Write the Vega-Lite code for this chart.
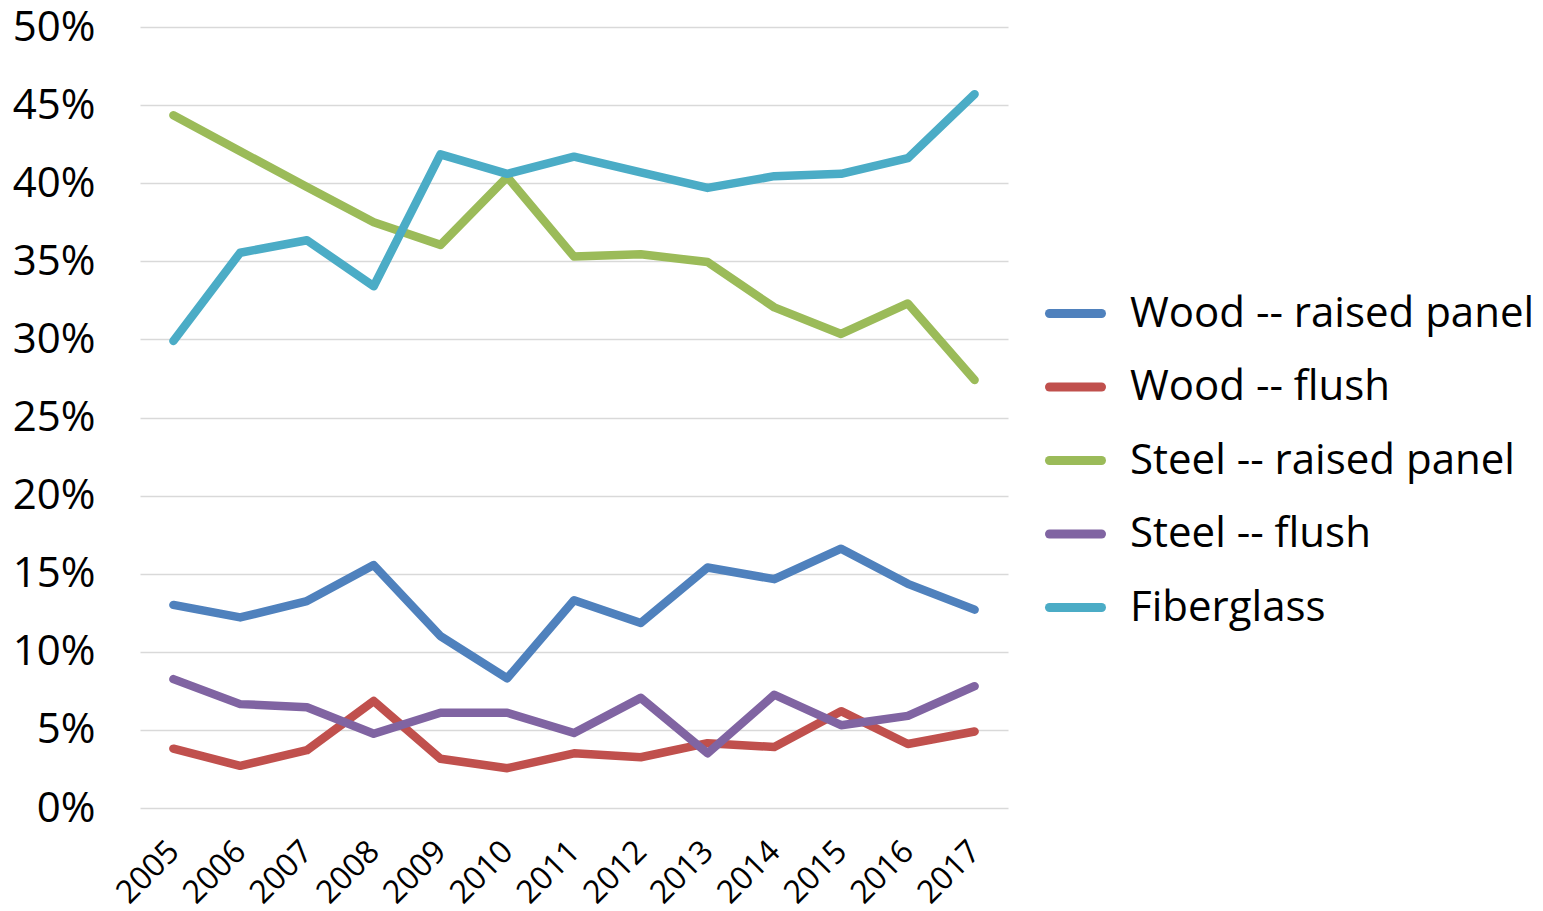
{
  "$schema": "https://vega.github.io/schema/vega-lite/v6.json",
  "width": 868,
  "height": 781,
  "autosize": {"type": "none"},
  "padding": {"left": 140, "top": 27, "right": 535, "bottom": 103},
  "background": "white",
  "config": {
    "view": {"stroke": null},
    "font": "Open Sans"
  },
  "data": {
    "values": [
      {"year": "2005", "type": "Wood -- raised panel", "share": 0.130},
      {"year": "2006", "type": "Wood -- raised panel", "share": 0.122},
      {"year": "2007", "type": "Wood -- raised panel", "share": 0.1325},
      {"year": "2008", "type": "Wood -- raised panel", "share": 0.1555},
      {"year": "2009", "type": "Wood -- raised panel", "share": 0.110},
      {"year": "2010", "type": "Wood -- raised panel", "share": 0.083},
      {"year": "2011", "type": "Wood -- raised panel", "share": 0.133},
      {"year": "2012", "type": "Wood -- raised panel", "share": 0.1185},
      {"year": "2013", "type": "Wood -- raised panel", "share": 0.154},
      {"year": "2014", "type": "Wood -- raised panel", "share": 0.1465},
      {"year": "2015", "type": "Wood -- raised panel", "share": 0.166},
      {"year": "2016", "type": "Wood -- raised panel", "share": 0.1435},
      {"year": "2017", "type": "Wood -- raised panel", "share": 0.127},
      {"year": "2005", "type": "Wood -- flush", "share": 0.038},
      {"year": "2006", "type": "Wood -- flush", "share": 0.027},
      {"year": "2007", "type": "Wood -- flush", "share": 0.037},
      {"year": "2008", "type": "Wood -- flush", "share": 0.0685},
      {"year": "2009", "type": "Wood -- flush", "share": 0.0315},
      {"year": "2010", "type": "Wood -- flush", "share": 0.0255},
      {"year": "2011", "type": "Wood -- flush", "share": 0.035},
      {"year": "2012", "type": "Wood -- flush", "share": 0.0325},
      {"year": "2013", "type": "Wood -- flush", "share": 0.0415},
      {"year": "2014", "type": "Wood -- flush", "share": 0.039},
      {"year": "2015", "type": "Wood -- flush", "share": 0.062},
      {"year": "2016", "type": "Wood -- flush", "share": 0.041},
      {"year": "2017", "type": "Wood -- flush", "share": 0.049},
      {"year": "2005", "type": "Steel -- raised panel", "share": 0.4435},
      {"year": "2006", "type": "Steel -- raised panel", "share": 0.4205},
      {"year": "2007", "type": "Steel -- raised panel", "share": 0.3975},
      {"year": "2008", "type": "Steel -- raised panel", "share": 0.375},
      {"year": "2009", "type": "Steel -- raised panel", "share": 0.3605},
      {"year": "2010", "type": "Steel -- raised panel", "share": 0.404},
      {"year": "2011", "type": "Steel -- raised panel", "share": 0.353},
      {"year": "2012", "type": "Steel -- raised panel", "share": 0.3545},
      {"year": "2013", "type": "Steel -- raised panel", "share": 0.3495},
      {"year": "2014", "type": "Steel -- raised panel", "share": 0.3205},
      {"year": "2015", "type": "Steel -- raised panel", "share": 0.3035},
      {"year": "2016", "type": "Steel -- raised panel", "share": 0.323},
      {"year": "2017", "type": "Steel -- raised panel", "share": 0.274},
      {"year": "2005", "type": "Steel -- flush", "share": 0.0825},
      {"year": "2006", "type": "Steel -- flush", "share": 0.0665},
      {"year": "2007", "type": "Steel -- flush", "share": 0.0645},
      {"year": "2008", "type": "Steel -- flush", "share": 0.0475},
      {"year": "2009", "type": "Steel -- flush", "share": 0.061},
      {"year": "2010", "type": "Steel -- flush", "share": 0.061},
      {"year": "2011", "type": "Steel -- flush", "share": 0.048},
      {"year": "2012", "type": "Steel -- flush", "share": 0.0705},
      {"year": "2013", "type": "Steel -- flush", "share": 0.035},
      {"year": "2014", "type": "Steel -- flush", "share": 0.0725},
      {"year": "2015", "type": "Steel -- flush", "share": 0.053},
      {"year": "2016", "type": "Steel -- flush", "share": 0.059},
      {"year": "2017", "type": "Steel -- flush", "share": 0.078},
      {"year": "2005", "type": "Fiberglass", "share": 0.299},
      {"year": "2006", "type": "Fiberglass", "share": 0.3555},
      {"year": "2007", "type": "Fiberglass", "share": 0.3635},
      {"year": "2008", "type": "Fiberglass", "share": 0.334},
      {"year": "2009", "type": "Fiberglass", "share": 0.4185},
      {"year": "2010", "type": "Fiberglass", "share": 0.406},
      {"year": "2011", "type": "Fiberglass", "share": 0.417},
      {"year": "2012", "type": "Fiberglass", "share": 0.407},
      {"year": "2013", "type": "Fiberglass", "share": 0.397},
      {"year": "2014", "type": "Fiberglass", "share": 0.4045},
      {"year": "2015", "type": "Fiberglass", "share": 0.406},
      {"year": "2016", "type": "Fiberglass", "share": 0.416},
      {"year": "2017", "type": "Fiberglass", "share": 0.457}
    ]
  },
  "mark": {"type": "line", "strokeWidth": 8.5, "strokeCap": "round", "strokeJoin": "round"},
  "encoding": {
    "x": {
      "field": "year",
      "type": "ordinal",
      "scale": {"type": "point", "padding": 0.5},
      "axis": {
        "title": null,
        "domain": false,
        "ticks": false,
        "tickSize": 0,
        "grid": false,
        "labelAngle": -45,
        "labelAlign": "right",
        "labelBaseline": "middle",
        "labelPadding": 38,
        "labelFontSize": 32,
        "labelColor": "#000000",
        "labelFont": "Open Sans"
      }
    },
    "y": {
      "field": "share",
      "type": "quantitative",
      "scale": {"domain": [0, 0.5], "nice": false, "zero": true},
      "axis": {
        "title": null,
        "format": ".0%",
        "values": [0, 0.05, 0.1, 0.15, 0.2, 0.25, 0.3, 0.35, 0.4, 0.45, 0.5],
        "domain": false,
        "ticks": false,
        "tickSize": 0,
        "grid": true,
        "gridColor": "#d9d9d9",
        "gridWidth": 1.5,
        "labelPadding": 45,
        "labelFontSize": 42,
        "labelColor": "#000000",
        "labelFont": "Open Sans"
      }
    },
    "color": {
      "field": "type",
      "type": "nominal",
      "scale": {
        "domain": ["Wood -- raised panel", "Wood -- flush", "Steel -- raised panel", "Steel -- flush", "Fiberglass"],
        "range": ["#4F81BD", "#C0504D", "#9BBB59", "#8064A2", "#4BACC6"]
      },
      "legend": {
        "title": null,
        "orient": "none",
        "legendX": 905,
        "legendY": 256,
        "symbolType": "stroke",
        "symbolSize": 2704,
        "symbolStrokeWidth": 9,
        "labelFontSize": 42,
        "labelFont": "Open Sans",
        "labelColor": "#000000",
        "labelOffset": 24,
        "rowPadding": 21.5,
        "labelLimit": 600,
        "encode": {"symbols": {"update": {"strokeCap": {"value": "round"}}}}
      }
    }
  }
}
